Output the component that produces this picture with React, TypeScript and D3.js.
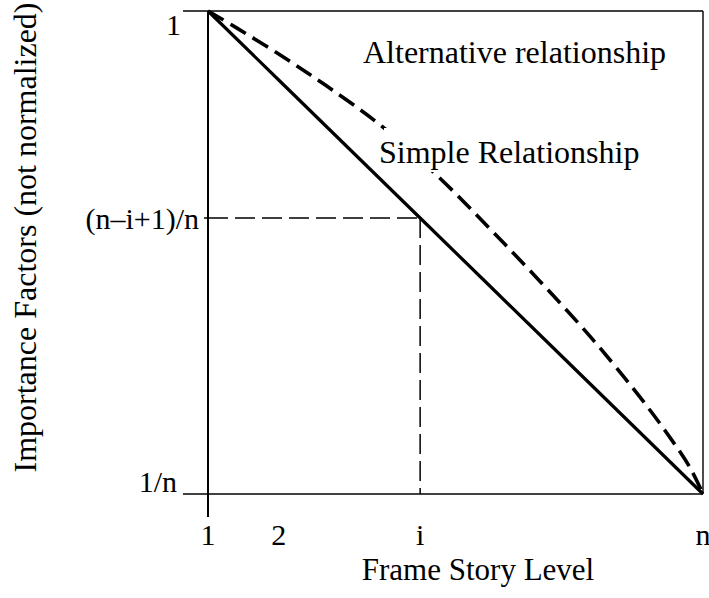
import React from "react";
import * as d3 from "d3";

// story levels (n = 8, i = 4 in the sketch)
const levels = [1, 2, 3, 4, 5, 6, 7, 8];
const simpleFactors = [1, 0.875, 0.75, 0.625, 0.5, 0.375, 0.25, 0.125];

// alternative (concave) relationship
const altLevels = [1, 1.41, 2.06, 2.68, 3.47, 4.28, 4.99, 5.69, 6.4, 7.02, 7.48, 7.82, 8];
const altFactors = [1, 0.969, 0.917, 0.864, 0.79, 0.697, 0.605, 0.511, 0.411, 0.315, 0.237, 0.172, 0.125];

const xTickValues = [1, 2, 4, 8];
const xTickLabels = ["1", "2", "i", "n"];
const yTickValues = [1, 0.625, 0.125];
const yTickLabels = ["1", "(n\u2013i+1)/n", "1/n"];

const markLevel = 4;
const markFactor = 0.625;

const W = 709;
const H = 598;
const FONT = "'Liberation Serif', 'Times New Roman', serif";

export default function App() {
  const x = d3.scaleLinear().domain([1, 8]).range([208, 703]);
  const y = d3.scaleLinear().domain([0.125, 1]).range([494, 11]);

  const line = d3
    .line<[number, number]>()
    .x((d) => x(d[0]))
    .y((d) => y(d[1]));
  const curve = d3
    .line<[number, number]>()
    .x((d) => x(d[0]))
    .y((d) => y(d[1]))
    .curve(d3.curveCatmullRom.alpha(0.5));

  const simplePts = levels.map((l, k) => [l, simpleFactors[k]] as [number, number]);
  const altPts = altLevels.map((l, k) => [l, altFactors[k]] as [number, number]);

  const [x0, x1] = x.range();
  const [yb, yt] = y.range();

  // label offsets for the y ticks (hand placed in the original)
  const yLabelRight = [181, 199, 177];
  const yLabelBase = [35, 229, 492];

  return (
    <svg
      width={W}
      height={H}
      style={{ position: "absolute", left: 0, top: 0, background: "#fff" }}
      fontFamily={FONT}
    >
      {/* frame */}
      <line x1={183} x2={x1} y1={yt} y2={yt} stroke="#000" strokeWidth={1.6} />
      <line x1={183} x2={x1} y1={yb} y2={yb} stroke="#000" strokeWidth={1.6} />
      <line x1={x0} x2={x0} y1={yt} y2={517} stroke="#000" strokeWidth={2} />
      <line x1={x1} x2={x1} y1={yt} y2={yb} stroke="#000" strokeWidth={1.4} />

      {/* guide lines to (i, (n-i+1)/n) */}
      <line
        x1={x0}
        x2={x(markLevel)}
        y1={y(markFactor)}
        y2={y(markFactor)}
        stroke="#000"
        strokeWidth={1.5}
        strokeDasharray="20 7"
      />
      <line
        x1={x(markLevel)}
        x2={x(markLevel)}
        y1={y(markFactor)}
        y2={yb}
        stroke="#000"
        strokeWidth={1.5}
        strokeDasharray="20 7"
      />

      {/* alternative relationship */}
      <path
        d={curve(altPts) || ""}
        fill="none"
        stroke="#000"
        strokeWidth={3.6}
        strokeDasharray="18 8"
      />
      {/* simple relationship */}
      <path d={line(simplePts) || ""} fill="none" stroke="#000" strokeWidth={3.2} />

      {/* annotations */}
      <rect x={384} y={128} width={258} height={44} fill="#fff" />
      <text x={379} y={163} fontSize={32}>
        Simple Relationship
      </text>
      <text x={363} y={63} fontSize={32}>
        Alternative relationship
      </text>

      {/* y ticks */}
      {yTickLabels.map((t, k) => (
        <text key={t} x={yLabelRight[k]} y={yLabelBase[k]} fontSize={30} textAnchor="end">
          {t}
        </text>
      ))}
      <line x1={204} x2={x0} y1={y(yTickValues[1])} y2={y(yTickValues[1])} stroke="#000" strokeWidth={1.5} />

      {/* x ticks */}
      {xTickLabels.map((t, k) => (
        <text key={t} x={x(xTickValues[k])} y={545} fontSize={30} textAnchor="middle">
          {t}
        </text>
      ))}

      {/* axis titles */}
      <text x={478} y={580} fontSize={31} textAnchor="middle">
        Frame Story Level
      </text>
      <text
        transform={`translate(36, ${(yt + yb) / 2 - 15}) rotate(-90)`}
        fontSize={32}
        textAnchor="middle"
      >
        Importance Factors (not normalized)
      </text>
    </svg>
  );
}
